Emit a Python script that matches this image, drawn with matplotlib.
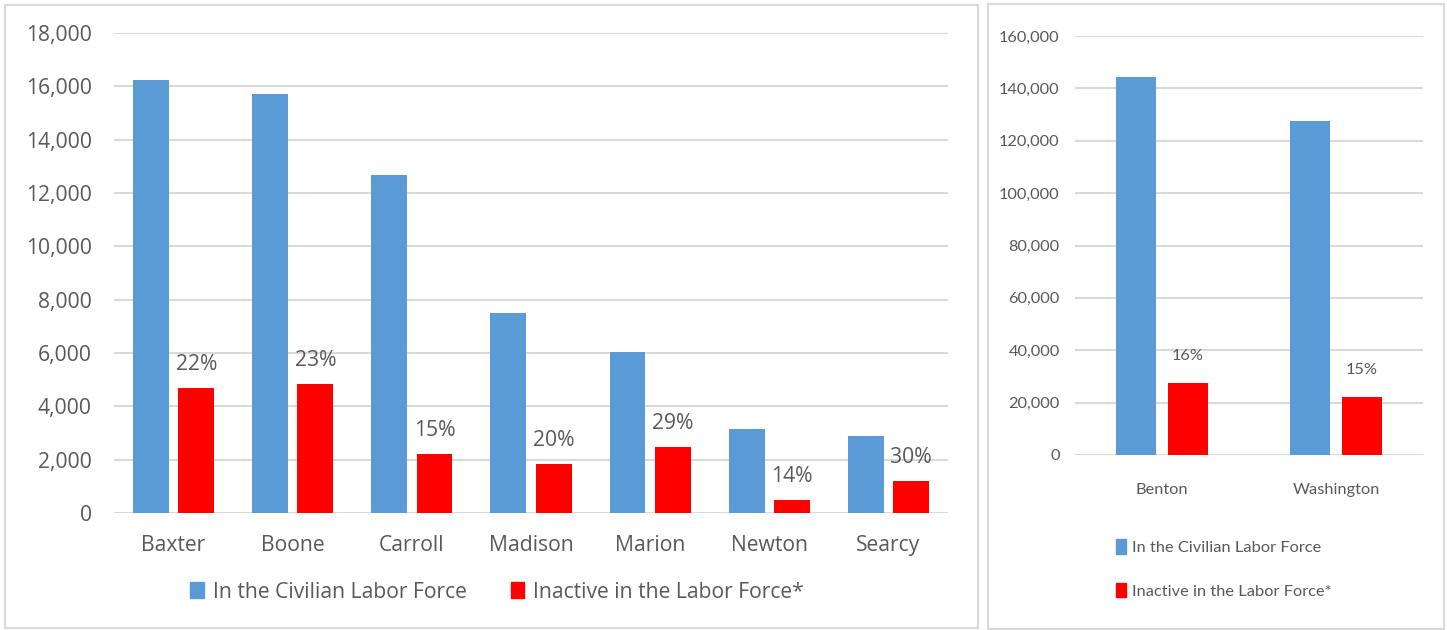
import numpy as np
import matplotlib.pyplot as plt
from matplotlib.patches import Rectangle, Patch
from matplotlib.ticker import FuncFormatter

# condados pequenos (painel esquerdo)
condados = ['Baxter', 'Boone', 'Carroll', 'Madison', 'Marion', 'Newton', 'Searcy']
forca_trabalho = [16220, 15720, 12660, 7490, 6040, 3160, 2870]
inativos = [4680, 4820, 2210, 1850, 2470, 490, 1210]
pct_inativos = ['22%', '23%', '15%', '20%', '29%', '14%', '30%']

# condados grandes (painel direito)
condados_grandes = ['Benton', 'Washington']
forca_trabalho_g = [144500, 127700]
inativos_g = [27500, 22100]
pct_inativos_g = ['16%', '15%']

AZUL = '#5B9BD5'
VERMELHO = '#FF0000'
CINZA_TEXTO = '#595959'
CINZA_GRADE = '#D9D9D9'
FONTE_ESQ = ['Open Sans', 'DejaVu Sans']
FONTE_DIR = ['Lato', 'DejaVu Sans']
TAM_ESQ = 15.2
TAM_DIR = 11.8

W, H = 1447, 630
fig = plt.figure(figsize=(W / 100, H / 100), dpi=100)

def px(x0, y0, x1, y1):
    # caixa em pixels (origem no topo) -> fracao da figura
    return [x0 / W, 1 - y1 / H, (x1 - x0) / W, (y1 - y0) / H]

milhar = FuncFormatter(lambda v, p: f'{int(v):,}')

def estilo(ax, fonte, tam, pad_y, pad_x):
    for s in ax.spines.values():
        s.set_visible(False)
    ax.yaxis.grid(True, color=CINZA_GRADE, linewidth=1.5)
    ax.set_axisbelow(True)
    ax.tick_params(length=0, colors=CINZA_TEXTO)
    ax.tick_params(axis='y', pad=pad_y)
    ax.tick_params(axis='x', pad=pad_x)
    ax.yaxis.set_major_formatter(milhar)
    for t in ax.get_xticklabels() + ax.get_yticklabels():
        t.set_fontfamily(fonte)
        t.set_fontsize(tam)

# painel esquerdo
ax1 = fig.add_axes(px(114, 33, 948, 513))
x = np.arange(len(condados))
larg, desl = 0.30, 0.19
ax1.bar(x - desl, forca_trabalho, larg, color=AZUL, zorder=2)
b_inat = ax1.bar(x + desl, inativos, larg, color=VERMELHO, zorder=2)
ax1.set_xlim(-0.5, len(condados) - 0.5)
ax1.set_ylim(0, 18000)
ax1.set_yticks(np.arange(0, 18001, 2000))
ax1.set_xticks(x)
ax1.set_xticklabels(condados)
estilo(ax1, FONTE_ESQ, TAM_ESQ, 16, 16)
for barra, rot in zip(b_inat, pct_inativos):
    ax1.annotate(rot, (barra.get_x() + barra.get_width() / 2, barra.get_height()),
                 xytext=(0, 17), textcoords='offset points', ha='center', va='center',
                 fontsize=TAM_ESQ, color=CINZA_TEXTO, family=FONTE_ESQ)

# painel direito
ax2 = fig.add_axes(px(1075, 36, 1423, 455))
x2 = np.arange(len(condados_grandes))
larg2, desl2 = 0.234, 0.15
ax2.bar(x2 - desl2, forca_trabalho_g, larg2, color=AZUL, zorder=2)
b_inat2 = ax2.bar(x2 + desl2, inativos_g, larg2, color=VERMELHO, zorder=2)
ax2.set_xlim(-0.5, 1.5)
ax2.set_ylim(0, 160000)
ax2.set_yticks(np.arange(0, 160001, 20000))
ax2.set_xticks(x2)
ax2.set_xticklabels(condados_grandes)
estilo(ax2, FONTE_DIR, TAM_DIR, 11, 20)
for barra, rot in zip(b_inat2, pct_inativos_g):
    ax2.annotate(rot, (barra.get_x() + barra.get_width() / 2, barra.get_height()),
                 xytext=(0, 19.5), textcoords='offset points', ha='center', va='center',
                 fontsize=TAM_DIR, color=CINZA_TEXTO, family=FONTE_DIR)

# legendas
itens = [Patch(color=AZUL, label='In the Civilian Labor Force'),
         Patch(color=VERMELHO, label='Inactive in the Labor Force*')]
fig.legend(handles=itens, loc='center', bbox_to_anchor=(497 / W, 1 - 592 / H), ncol=2,
           frameon=False, handlelength=0.65, handleheight=0.75, handletextpad=0.4,
           columnspacing=2.1, borderpad=0,
           prop={'family': FONTE_ESQ, 'size': TAM_ESQ}, labelcolor=CINZA_TEXTO)
fig.legend(handles=itens, loc='center left', bbox_to_anchor=(1116 / W, 1 - 569 / H), ncol=1,
           frameon=False, handlelength=0.6, handleheight=0.95, handletextpad=0.35,
           labelspacing=1.7, borderpad=0, borderaxespad=0,
           prop={'family': FONTE_DIR, 'size': TAM_DIR}, labelcolor=CINZA_TEXTO)

# molduras dos dois paineis
for caixa in [(5, 5, 978, 628), (988, 4, 1444, 629)]:
    fig.add_artist(Rectangle(px(*caixa)[:2], *px(*caixa)[2:], transform=fig.transFigure,
                             fill=False, edgecolor=CINZA_GRADE, linewidth=1.5))

fig.savefig('out.png', dpi=100)
